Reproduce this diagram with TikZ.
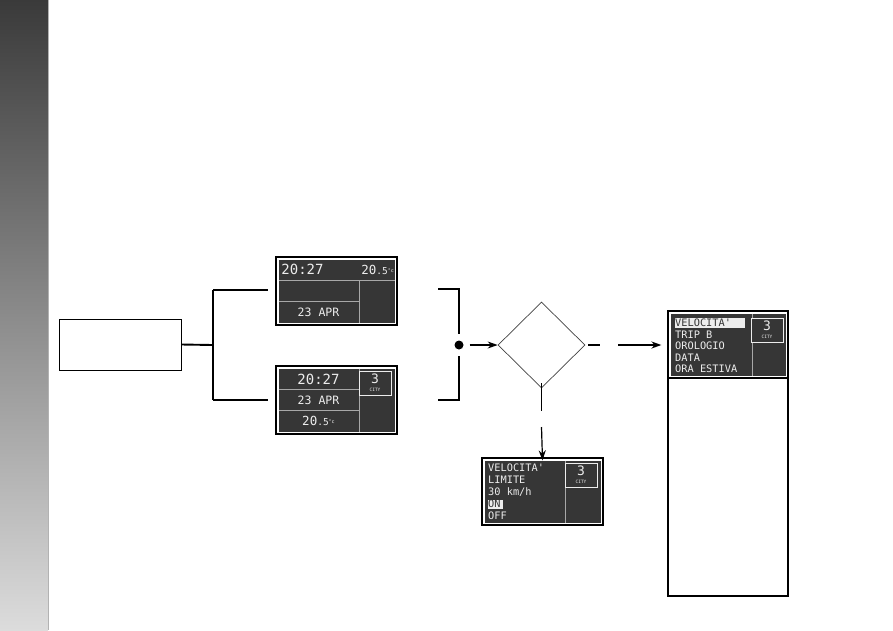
\documentclass[tikz,border=0pt]{standalone}
\usepackage{fontspec}
\newfontfamily\lcdfont{DejaVu Sans Mono}
\usetikzlibrary{shapes.geometric,arrows.meta}
\definecolor{lcdbg}{HTML}{363636}
\definecolor{lcdline}{HTML}{A8A8A8}
\definecolor{lcdtext}{HTML}{EDEDED}
\definecolor{striptop}{HTML}{3A3A3A}
\definecolor{stripbot}{HTML}{DCDCDC}
\tikzset{
  dispbox/.style={draw=black,line width=1.2pt,fill=white,inner sep=0pt},
  lcdfill/.style={fill=lcdbg},
  divider/.style={draw=lcdline,line width=1pt},
  lcdtxt/.style={text=lcdtext,font=\lcdfont\fontsize{10.3}{10.3}\selectfont,inner sep=0pt},
  bigtxt/.style={text=lcdtext,font=\lcdfont\fontsize{14}{14}\selectfont,inner sep=0pt},
  midtxt/.style={text=lcdtext,font=\lcdfont\fontsize{11.5}{11.5}\selectfont,inner sep=0pt},
  citybox/.style={draw=lcdtext,line width=1pt,fill=lcdbg},
  conn/.style={line width=1.1pt},
  thickconn/.style={line width=1.9pt},
  arr/.style={-{Stealth[length=10pt,width=7pt]},line width=1.2pt},
}
\newcommand{\tempval}[1]{{\fontsize{12.5}{12.5}\selectfont 20}{\fontsize{9.5}{9.5}\selectfont .5}{\fontsize{5}{5}\selectfont\raisebox{2.5pt}{°c}}}
\newcommand{\citymark}[2]{%
  \draw[citybox] (#1-16,#2-12) rectangle (#1+16,#2+12);
  \node[text=lcdtext,font=\lcdfont\fontsize{13}{13}\selectfont,inner sep=0pt] at (#1,#2-4) {3};
  \node[text=lcdtext,font=\lcdfont\fontsize{4.5}{4.5}\selectfont,inner sep=0pt] at (#1,#2+7) {CITY};
}
\begin{document}
\begin{tikzpicture}[x=1pt,y=-1pt]
\useasboundingbox (0,0) rectangle (893,630);
% left strip
\shade[top color=striptop,bottom color=stripbot] (0,0) rectangle (48,630);
\draw[color=gray!60,line width=0.8pt] (48,0) -- (48,630);

% start box
\node[draw,line width=1pt,minimum width=122pt,minimum height=51pt,inner sep=0pt] (start) at (120,344.5) {};

% display 1
\node[dispbox,minimum width=121pt,minimum height=68pt] (d1) at (336.5,291) {};
\fill[lcdfill] (278.5,259.5) rectangle (394.5,322.5);
\draw[divider] (278.5,280) -- (394.5,280);
\draw[divider] (359,280) -- (359,322.5);
\draw[divider] (278.5,301) -- (359,301);
\node[bigtxt] at (302.5,269) {20:27};
\node[text=lcdtext,font=\lcdfont,inner sep=0pt,anchor=east] at (394,270) {\tempval{}};
\node[midtxt] at (318.5,312) {23 APR};

% display 2
\node[dispbox,minimum width=121pt,minimum height=68pt] (d2) at (336.5,400) {};
\fill[lcdfill] (278.5,368.5) rectangle (394.5,431.5);
\draw[divider] (359,368.5) -- (359,431.5);
\draw[divider] (278.5,389) -- (359,389);
\draw[divider] (278.5,410) -- (359,410);
\node[bigtxt] at (318.5,379) {20:27};
\node[midtxt] at (318.5,400) {23 APR};
\node[text=lcdtext,font=\lcdfont,inner sep=0pt] at (318.5,421) {\tempval{}};
\citymark{375}{383}

% left bracket
\coordinate (jl) at (213,345);
\coordinate (jt) at (213,290);
\coordinate (jb) at (213,400);
\coordinate (e1) at (268,290);
\coordinate (e2) at (268,400);
\draw[thickconn] (start.east) -- (jl);
\draw[conn] (jt) -- (jb);
\draw[conn] (jt) -- (e1);
\draw[thickconn] (jb) -- (e2);

% right bracket
\coordinate (r1) at (438,289);
\coordinate (r2) at (438,400);
\coordinate (rt) at (459,289);
\coordinate (rb) at (459,400);
\node[circle,fill=black,inner sep=0pt,minimum size=9pt] (dot) at (459,345) {};
\draw[conn] (r1) -- (rt) -- (459,334);
\draw[conn] (459,356) -- (rb) -- (r2);

% decision diamond
\node[diamond,draw=black!75,line width=0.7pt,minimum width=87pt,minimum height=86pt,inner sep=0pt] (dec) at (541.5,345) {};
\draw[arr] ([xshift=6pt]dot.east) -- (dec.west);

% display 3 (right, tall)
\node[draw=black,line width=1.2pt,fill=white,minimum width=120pt,minimum height=285pt,inner sep=0pt] (d3) at (728,453.5) {};
\fill[lcdfill] (670.5,313.5) rectangle (785.5,375.5);
\draw[line width=1.2pt] (668,378) -- (788,378);
\draw[divider] (752,313.5) -- (752,375.5);
\citymark{767}{330}
\fill[lcdtext] (675,318) rectangle (745,327.5);
\node[lcdtxt,text=lcdbg,anchor=west] at (675,323) {VELOCITA'};
\node[lcdtxt,anchor=west] at (675,334.5) {TRIP B};
\node[lcdtxt,anchor=west] at (675,346) {OROLOGIO};
\node[lcdtxt,anchor=west] at (675,357.5) {DATA};
\node[lcdtxt,anchor=west] at (675,369) {ORA ESTIVA};

% display 4 (bottom)
\node[dispbox,minimum width=121pt,minimum height=67pt] (d4) at (542.5,491.5) {};
\fill[lcdfill] (484.5,460.5) rectangle (600.5,522.5);
\draw[divider] (565,460.5) -- (565,522.5);
\citymark{581}{475}
\node[lcdtxt,anchor=west] at (488,468) {VELOCITA'};
\node[lcdtxt,anchor=west] at (488,480) {LIMITE};
\node[lcdtxt,anchor=west] at (488,492) {30 km/h};
\fill[lcdtext] (487.5,499.5) rectangle (502.5,508.5);
\node[lcdtxt,text=lcdbg,anchor=west] at (488,504) {ON};
\node[lcdtxt,anchor=west] at (488,516) {OFF};

% connectors from decision
\coordinate (g1) at (600,345);
\coordinate (g2) at (618,345);
\draw[thickconn] ([xshift=3pt]dec.east) -- (g1);
\draw[arr,line width=1.9pt] (g2) -- ([xshift=-6pt]d3.west |- g2);
\coordinate (h1) at (541.5,411);
\coordinate (h2) at (541.5,427);
\draw[conn] ([yshift=5pt]dec.south) -- (h1);
\draw[arr] (h2) -- ([yshift=-3pt]d4.north);
\end{tikzpicture}
\end{document}
